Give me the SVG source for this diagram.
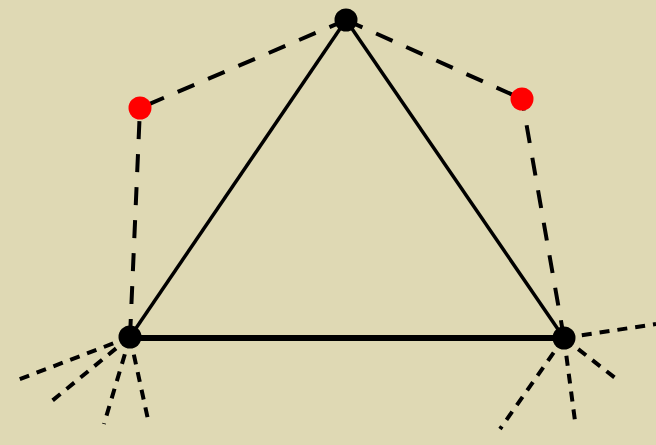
<svg xmlns="http://www.w3.org/2000/svg" width="656" height="445" viewBox="0 0 656 445">
<style>
.d{stroke:#000;stroke-width:4;stroke-dasharray:18,15;fill:none}
.f{stroke:#000;stroke-width:4;stroke-dasharray:10,8;fill:none}
.s{stroke:#000;fill:none}
.v{fill:#000}
.r{fill:#ff0000}
</style>
<rect width="656" height="445" fill="#dfd9b4"/>
<g id="connectors">
<line class="d" x1="346" y1="20" x2="140" y2="108"/>
<line class="d" x1="346" y1="20" x2="522" y2="99"/>
<line class="d" x1="130" y1="337" x2="140" y2="108"/>
<line class="d" x1="564" y1="338" x2="522" y2="99"/>
<line class="f" x1="130" y1="337" x2="15" y2="381"/>
<line class="f" x1="130" y1="337" x2="47" y2="405"/>
<line class="f" x1="130" y1="337" x2="104" y2="424"/>
<line class="f" x1="130" y1="337" x2="149" y2="424"/>
<line class="f" x1="564" y1="338" x2="656" y2="324"/>
<line class="f" x1="564" y1="338" x2="619" y2="381"/>
<line class="f" x1="564" y1="338" x2="575" y2="421"/>
<line class="f" x1="564" y1="338" x2="500" y2="429"/>
<line class="s" stroke-width="3.5" x1="346" y1="20" x2="130" y2="337"/>
<line class="s" stroke-width="3.5" x1="346" y1="20" x2="564" y2="338"/>
<line class="s" stroke-width="6" x1="130" y1="338" x2="564" y2="338"/>
</g>
<g id="top"><circle class="v" cx="346" cy="20" r="11.5"/></g>
<g id="left"><circle class="v" cx="130" cy="337" r="11.5"/></g>
<g id="right"><circle class="v" cx="564" cy="338" r="11.5"/></g>
<g id="redLeft"><circle class="r" cx="140" cy="108" r="11.5"/></g>
<g id="redRight"><circle class="r" cx="522" cy="99" r="11.5"/></g>
</svg>
